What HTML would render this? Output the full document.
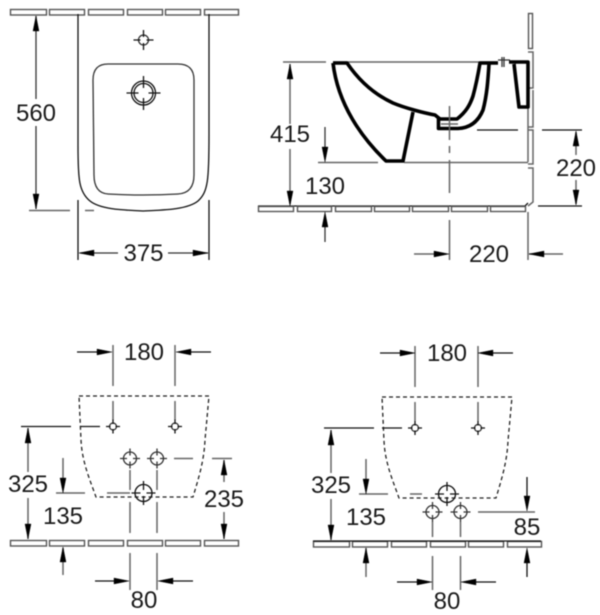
<!DOCTYPE html>
<html><head><meta charset="utf-8">
<style>
html,body{margin:0;padding:0;background:#fff;width:600px;height:615px;overflow:hidden}
svg{display:block;filter:blur(0.45px)}
text{font-family:"Liberation Sans",sans-serif;font-size:24px;fill:#1a1a1a;text-anchor:middle}
.k{stroke:#111;stroke-width:1.3;fill:none}
.g{stroke:#666;stroke-width:1.5;fill:none}
.m{stroke:#333;stroke-width:1.3;fill:none}
.t{stroke:#555;stroke-width:1.4;fill:#fff}
.d{stroke:#222;stroke-width:1.3;fill:none;stroke-dasharray:4 3}
.h{stroke:#000;stroke-width:3.6;fill:none;stroke-linejoin:round}
.a{fill:#000;stroke:#000;stroke-width:.4}
</style></head>
<body>
<svg width="600" height="615" viewBox="0 0 600 615" xmlns="http://www.w3.org/2000/svg">
<defs>
<path id="u" class="a" d="M0 0L-3 15H3Z"/>
<path id="dn" class="a" d="M0 0L-3 -15H3Z"/>
<path id="l" class="a" d="M0 0L15 -3V3Z"/>
<path id="r" class="a" d="M0 0L-15 -3V3Z"/>
<g id="tiles">
<rect class="t" x="10.500" y="0.500" width="36" height="5.500"/>
<rect class="t" x="49.500" y="0.500" width="35" height="5.500"/>
<rect class="t" x="88.500" y="0.500" width="35" height="5.500"/>
<rect class="t" x="127.500" y="0.500" width="35" height="5.500"/>
<rect class="t" x="165.500" y="0.500" width="35" height="5.500"/>
<rect class="t" x="204.500" y="0.500" width="34" height="5.500"/>
</g>
<g id="small">
<circle cx="0" cy="0" r="3.500" class="m"/>
<path class="k" d="M-7 0H-2.500M2.500 0H7M0 -7V-2.500M0 2.500V7"/>
</g>
<g id="mid">
<circle cx="0" cy="0" r="6.500" class="m"/>
<path class="m" d="M-10 0H-3M3 0H10M0 -10V-3M0 3V10"/>
</g>
<g id="big">
<circle cx="0" cy="0" r="8.500" class="k"/>
<path class="k" d="M-12 0H-3M3 0H12M0 -12V-3M0 3V12"/>
</g>
</defs>

<!-- TOP LEFT -->
<use href="#tiles" x="0" y="9"/>
<path class="k" d="M78 14V145C78 180 79 192 90 201C100 209 120 210 143 211C168 210 188 209 198 201C208 192 209 180 209 135V14"/>
<path class="k" d="M78 200V260M209 200V260"/>
<path class="m" d="M93 80Q93 64 108 64H178Q194 64 194 80V175Q194 193 178 194Q143 196 108 194Q94 193 94 175Z"/>
<g transform="translate(143.500,40)"><circle r="5" class="m"/><path class="k" d="M-10 0H-3M3 0H10M0 -10V-3M0 3V10"/></g>
<g transform="translate(143.500,93)"><circle r="12" class="k"/><circle r="9.500" class="k"/><path class="k" d="M-17 0H-5M5 0H17M0 -17V-5M0 5V17"/></g>
<path class="m" d="M36 16V99M36 126V209"/>
<use href="#u" x="36" y="16"/><use href="#dn" x="36" y="209"/>
<path class="g" d="M29 210.500H70M85 210.500H94"/>
<text x="36" y="121">560</text>
<path class="m" d="M80 253H118M168 253H208"/>
<use href="#l" x="79" y="253"/><use href="#r" x="208" y="253"/>
<text x="143.500" y="261">375</text>

<!-- TOP RIGHT -->
<rect class="t" x="528.500" y="13.500" width="4" height="35"/>
<path class="g" d="M528 52H533V88H528M533 90V127H528M528 130H533V164H528M528 168H533V202L528 206"/>
<path class="g" d="M283 62H326M333 62H498M318 162.500H378M404 162.500H528M528 62V162"/>
<path class="k" d="M477 130H518"/>
<!-- bowl -->
<path class="h" d="M333 63H347C362 85 380 97 393 103C405 108 424 113 435 115L440 119M333 63C338 105 362 138 386 161H403L413 112"/>
<path class="h" d="M440 119H438.500V128.500H458C470 128 478 122 483 110C487 95 488 80 489 64M440 119H457C466 112 470 105 473 96C476 85 478 75 480 63H498"/>
<path class="g" d="M441 124H458"/>
<path class="h" d="M509 62H528V107H519L514 64"/>
<path class="m" d="M498 60H510M502 57V67M504 57V67"/>
<path class="g" d="M449.500 106V140M449.500 146V153M449.500 160V193M449.500 220V260M528 212V260"/>
<path class="k" d="M258 206H525L528 203"/>
<rect class="t" x="258.500" y="206.500" width="35" height="5"/>
<rect class="t" x="297.500" y="206.500" width="34" height="5"/>
<rect class="t" x="335.500" y="206.500" width="36" height="5"/>
<rect class="t" x="374.500" y="206.500" width="35" height="5"/>
<rect class="t" x="412.500" y="206.500" width="36" height="5"/>
<rect class="t" x="451.500" y="206.500" width="36" height="5"/>
<rect class="t" x="490.500" y="206.500" width="35" height="5"/>
<path class="g" d="M290 64V124M290 149V204"/>
<use href="#u" x="290" y="64"/><use href="#dn" x="290" y="206"/>
<text x="290" y="142">415</text>
<path class="m" d="M325 127V150M325 216V242"/>
<use href="#dn" x="325" y="162"/><use href="#u" x="325" y="212"/>
<text x="325" y="194">130</text>
<path class="k" d="M542 130H582M538 206H582"/>
<path class="g" d="M576 132V155M576 180V204"/>
<use href="#u" x="576" y="131"/><use href="#dn" x="576" y="205"/>
<text x="576" y="176">220</text>
<path class="g" d="M414 254H435M529 254H563"/>
<use href="#r" x="449" y="254"/><use href="#l" x="529" y="254"/>
<text x="489" y="262">220</text>

<!-- BOTTOM LEFT -->
<path class="d" d="M79 396H209L205 440C204 462 198 480 193 497H96C90 480 82 462 81 440Z"/>
<use href="#tiles" x="0" y="540"/>
<path class="g" d="M113 345V386M175 345V386M113 401V420M175 401V420"/>
<path class="k" d="M77 352H100M190 352H211"/>
<use href="#r" x="112" y="352"/><use href="#l" x="176" y="352"/>
<text x="144" y="360">180</text>
<path class="k" d="M21 426.500H71M80 426.500H100"/>
<use href="#small" x="113" y="426.500"/><use href="#small" x="175" y="426.500"/>
<use href="#mid" x="130" y="458.500"/><use href="#mid" x="157" y="458.500"/>
<use href="#big" x="143.500" y="493"/>
<path class="g" d="M174 458.500H193M212 458.500H232M107 493H130M56 493H85"/>
<path class="g" d="M28 428V472M28 498V539M224 460V482M224 512V539M63 458V481M63 548V575"/>
<use href="#u" x="28" y="428"/><use href="#dn" x="28" y="539"/>
<use href="#u" x="224" y="460"/><use href="#dn" x="224" y="539"/>
<use href="#dn" x="63" y="493"/><use href="#u" x="63" y="547"/>
<text x="28" y="492">325</text>
<text x="224" y="507">235</text>
<text x="63" y="524">135</text>
<path class="g" d="M130 470V490M157 470V490M130 502V533M157 502V533M130 553V590M157 553V590"/>
<path class="k" d="M95 581H115M172 581H193"/>
<use href="#r" x="129" y="581"/><use href="#l" x="158" y="581"/>
<text x="144" y="608">80</text>

<!-- BOTTOM RIGHT -->
<path class="d" d="M382 397H512L508 441C507 463 501 481 496 498H399C393 481 385 463 384 441Z"/>
<use href="#tiles" x="303" y="541"/>
<path class="k" d="M313 541H541"/>
<path class="g" d="M415 346V387M478 346V387M415 402V421M478 402V421"/>
<path class="k" d="M380 353H403M493 353H513"/>
<use href="#r" x="415" y="353"/><use href="#l" x="478" y="353"/>
<text x="447" y="361">180</text>
<path class="k" d="M324 428H374M382 428H402"/>
<use href="#small" x="415" y="428"/><use href="#small" x="478" y="428"/>
<use href="#big" x="447" y="494"/>
<use href="#mid" x="432.500" y="512"/><use href="#mid" x="460.500" y="512"/>
<path class="g" d="M359 494H388M410 494H422M478 512H535"/>
<path class="g" d="M331 430V473M331 499V540M366 459V482M366 548V577"/>
<use href="#u" x="331" y="430"/><use href="#dn" x="331" y="540"/>
<use href="#dn" x="366" y="494"/><use href="#u" x="366" y="548"/>
<text x="331" y="493">325</text>
<text x="366" y="525">135</text>
<path class="k" d="M527 477V498M527 562V577"/>
<use href="#dn" x="527" y="511"/><use href="#u" x="527" y="548"/>
<text x="527" y="535">85</text>
<path class="g" d="M432.500 522V537M460.500 522V537M432.500 556V590M460.500 556V590"/>
<path class="k" d="M397 582H418M475 582H496"/>
<use href="#r" x="432" y="582"/><use href="#l" x="461" y="582"/>
<text x="447" y="609">80</text>
</svg>
</body></html>
